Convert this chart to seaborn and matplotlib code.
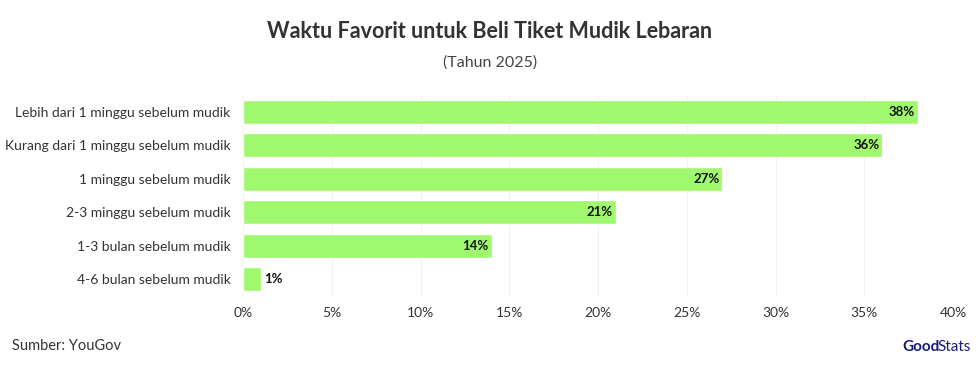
import matplotlib
matplotlib.use("Agg")
import matplotlib.pyplot as plt
import seaborn as sns
import pandas as pd

categories = ["Lebih dari 1 minggu sebelum mudik", "Kurang dari 1 minggu sebelum mudik",
              "1 minggu sebelum mudik", "2-3 minggu sebelum mudik",
              "1-3 bulan sebelum mudik", "4-6 bulan sebelum mudik"]
values = [38, 36, 27, 21, 14, 1]
xticks = [0, 5, 10, 15, 20, 25, 30, 35, 40]
xtick_labels = [f"{t}%" for t in xticks]

sns.set_theme(style="white")
plt.rcParams['font.family'] = ['Lato', 'DejaVu Sans']

df = pd.DataFrame({"cat": categories, "val": values})
fig = plt.figure(figsize=(9.8, 3.67), dpi=100)
ax = fig.add_axes([243/980, 1-296/367, (953-243)/980, 201/367])
sns.barplot(data=df, x="val", y="cat", color="#A0F86E", saturation=1, width=0.71, ax=ax, orient="h")
ax.set_xlim(0, 40)
ax.set_ylim(5.5, -0.5)
ax.set_xticks(xticks)
ax.set_xticklabels(xtick_labels, fontsize=10, color="#333333")
ax.set_yticklabels(categories, fontsize=10, color="#333333")
ax.set_xlabel("")
ax.set_ylabel("")
for s in ax.spines.values():
    s.set_visible(False)
ax.xaxis.grid(True, color="#f0f0f0", linewidth=0.8)
ax.set_axisbelow(True)
ax.tick_params(axis="y", length=5, color="#e6e6e6", pad=4)
ax.tick_params(axis="x", length=0, pad=8)
for i, v in enumerate(values):
    if v >= 5:
        ax.text(v - 0.15, i, f"{v}%", ha="right", va="center", fontsize=9.5, fontweight="bold", color="#111111")
    else:
        ax.text(v + 0.2, i, f"{v}%", ha="left", va="center", fontsize=9.5, fontweight="bold", color="#111111")

fig.text(0.5, 1-32/367, "Waktu Favorit untuk Beli Tiket Mudik Lebaran", ha="center", va="center",
         fontsize=15.5, fontweight="bold", color="#333333")
fig.text(0.5, 1-63/367, "(Tahun 2025)", ha="center", va="center", fontsize=11.5, color="#444444")
fig.text(12/980, 1-346/367, "Sumber: YouGov", ha="left", va="center", fontsize=10.5, color="#333333")
fig.text(902/980, 1-347/367, "Good", ha="left", va="center", fontsize=11, fontweight="bold", color="#1a1a7a")
fig.text(937/980, 1-347/367, "Stats", ha="left", va="center", fontsize=11, color="#1a1a7a")
fig.savefig("out.png", dpi=100)
